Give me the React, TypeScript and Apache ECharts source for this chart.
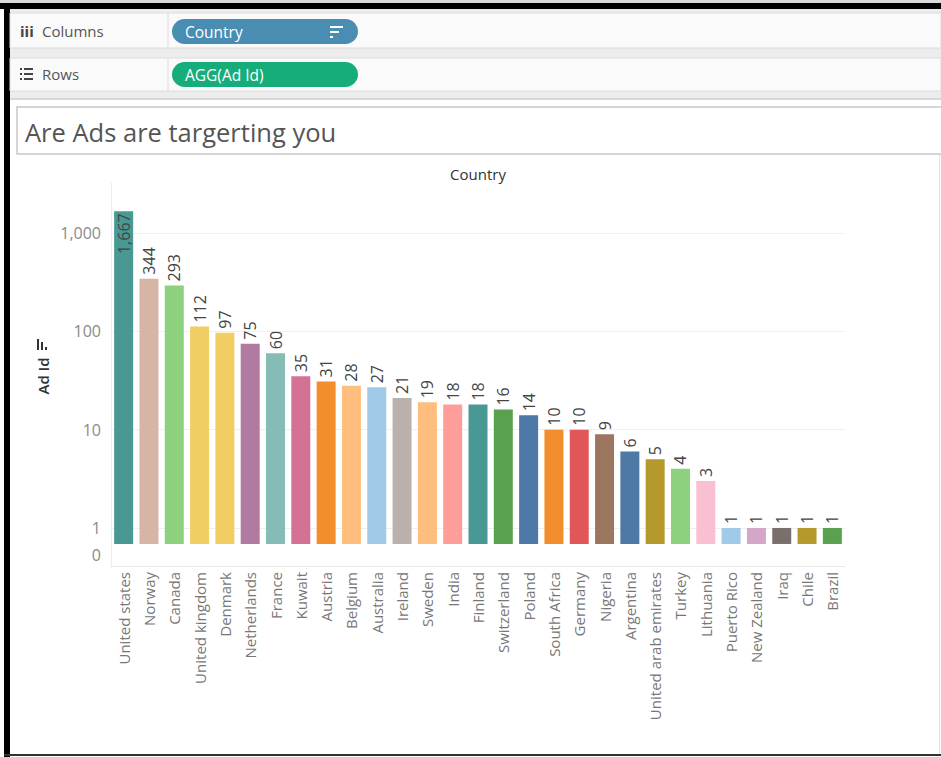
import React, { useEffect, useRef } from "react";
import * as echarts from "echarts";

const countries = [
  "United states", "Norway", "Canada", "United kingdom", "Denmark", "Netherlands",
  "France", "Kuwait", "Austria", "Belgium", "Australia", "Ireland", "Sweden", "India",
  "Finland", "Switzerland", "Poland", "South Africa", "Germany", "Nigeria", "Argentina",
  "United arab emirates", "Turkey", "Lithuania", "Puerto Rico", "New Zealand", "Iraq",
  "Chile", "Brazil",
];
const adCounts = [
  1667, 344, 293, 112, 97, 75, 60, 35, 31, 28, 27, 21, 19, 18, 18, 16, 14, 10, 10, 9, 6,
  5, 4, 3, 1, 1, 1, 1, 1,
];
const barColors = [
  "#499894", "#d7b5a6", "#8cd17d", "#f1ce63", "#f1ce63", "#b07aa1", "#86bcb6", "#d37295",
  "#f28e2b", "#ffbe7d", "#a0cbe8", "#bab0ac", "#ffbe7d", "#ff9d9a", "#499894", "#59a14f",
  "#4e79a7", "#f28e2b", "#e15759", "#9d7660", "#4e79a7", "#b6992d", "#8cd17d", "#fabfd2",
  "#a0cbe8", "#d4a6c8", "#79706e", "#b6992d", "#59a14f",
];

const FONT = "'Open Sans', 'Noto Sans', sans-serif";

function isPow10(v: number) {
  const l = Math.log10(v);
  return Math.abs(l - Math.round(l)) < 1e-6;
}

export default function App() {
  const ref = useRef<HTMLDivElement>(null);
  useEffect(() => {
    const chart = echarts.init(ref.current!, null, { renderer: "svg" });
    const graphic: any[] = [
      // frame
      { type: "rect", shape: { x: 0, y: 0, width: 941, height: 3 }, style: { fill: "#d9d9d9" } },
      { type: "rect", shape: { x: 0, y: 3, width: 941, height: 6 }, style: { fill: "#000" } },
      { type: "rect", shape: { x: 4, y: 3, width: 6, height: 754 }, style: { fill: "#000" } },
      { type: "rect", shape: { x: 4, y: 754, width: 937, height: 2 }, style: { fill: "#333" } },
      { type: "rect", shape: { x: 939, y: 9, width: 1, height: 745 }, style: { fill: "#e3e3e3" } },
      // shelves
      { type: "rect", shape: { x: 10, y: 9, width: 931, height: 98 }, style: { fill: "#ededed" } },
      { type: "rect", shape: { x: 10, y: 13, width: 931, height: 35 }, style: { fill: "#fafafa", stroke: "#dcdcdc", lineWidth: 1 } },
      { type: "rect", shape: { x: 10, y: 58, width: 931, height: 33 }, style: { fill: "#fafafa", stroke: "#dcdcdc", lineWidth: 1 } },
      { type: "rect", shape: { x: 10, y: 99, width: 931, height: 8 }, style: { fill: "#ffffff" } },
      { type: "line", shape: { x1: 10, y1: 99, x2: 941, y2: 99 }, style: { stroke: "#cfcfcf", lineWidth: 1.5 } },
      { type: "line", shape: { x1: 168, y1: 13, x2: 168, y2: 48 }, style: { stroke: "#dcdcdc", lineWidth: 1 } },
      { type: "line", shape: { x1: 168, y1: 58, x2: 168, y2: 91 }, style: { stroke: "#dcdcdc", lineWidth: 1 } },
      // columns icon
      { type: "text", x: 20, y: 31, style: { text: "iii", font: `bold 15px ${FONT}`, fill: "#444", verticalAlign: "middle" } },
      { type: "text", x: 42, y: 31, style: { text: "Columns", font: `15px ${FONT}`, fill: "#555", verticalAlign: "middle" } },
      // rows icon
      { type: "rect", shape: { x: 20, y: 68, width: 2, height: 2 }, style: { fill: "#444" } },
      { type: "rect", shape: { x: 20, y: 73, width: 2, height: 2 }, style: { fill: "#444" } },
      { type: "rect", shape: { x: 20, y: 78, width: 2, height: 2 }, style: { fill: "#444" } },
      { type: "rect", shape: { x: 24, y: 68, width: 9, height: 2 }, style: { fill: "#444" } },
      { type: "rect", shape: { x: 24, y: 73, width: 9, height: 2 }, style: { fill: "#444" } },
      { type: "rect", shape: { x: 24, y: 78, width: 9, height: 2 }, style: { fill: "#444" } },
      { type: "text", x: 42, y: 74, style: { text: "Rows", font: `15px ${FONT}`, fill: "#555", verticalAlign: "middle" } },
      // pills
      { type: "rect", shape: { x: 172, y: 19, width: 186, height: 25, r: 12.5 }, style: { fill: "#4a8db3" } },
      { type: "text", x: 185, y: 31.5, style: { text: "Country", font: `15.5px ${FONT}`, fill: "#fff", verticalAlign: "middle" } },
      { type: "rect", shape: { x: 330, y: 26, width: 13, height: 2 }, style: { fill: "#fff" } },
      { type: "rect", shape: { x: 330, y: 31, width: 9, height: 2 }, style: { fill: "#fff" } },
      { type: "rect", shape: { x: 330, y: 36, width: 3, height: 2 }, style: { fill: "#fff" } },
      { type: "rect", shape: { x: 172, y: 62, width: 186, height: 25, r: 12.5 }, style: { fill: "#16ad7b" } },
      { type: "text", x: 185, y: 74.5, style: { text: "AGG(Ad Id)", font: `15.5px ${FONT}`, fill: "#fff", verticalAlign: "middle" } },
      // title box
      { type: "rect", shape: { x: 17, y: 107, width: 930, height: 47 }, style: { fill: "#fff", stroke: "#c8c8c8", lineWidth: 1.5 } },
      { type: "text", x: 25, y: 132, style: { text: "Are Ads are targerting you", font: `25.5px ${FONT}`, fill: "#555", verticalAlign: "middle" } },
      // column header
      { type: "text", x: 478, y: 174, style: { text: "Country", font: `15px ${FONT}`, fill: "#333", align: "center", verticalAlign: "middle" } },
      // y axis title
      { type: "text", x: 43, y: 376, rotation: Math.PI / 2, style: { text: "Ad Id", font: `600 15px ${FONT}`, fill: "#333", align: "center", verticalAlign: "middle" } },
      { type: "rect", shape: { x: 37, y: 339, width: 2, height: 11 }, style: { fill: "#333" } },
      { type: "rect", shape: { x: 41, y: 342, width: 2, height: 8 }, style: { fill: "#333" } },
      { type: "rect", shape: { x: 45, y: 347, width: 2, height: 3 }, style: { fill: "#333" } },
      // zero label
      { type: "text", x: 101, y: 555, style: { text: "0", font: `16px ${FONT}`, fill: "#8a8a8a", align: "right", verticalAlign: "middle" } },
    ];

    chart.setOption({
      animation: false,
      backgroundColor: "#fff",
      textStyle: { fontFamily: FONT },
      graphic,
      grid: { left: 111, right: 96, top: 183, bottom: 191, containLabel: false },
      xAxis: {
        type: "category",
        data: countries,
        axisLine: { show: true, lineStyle: { color: "#e8e8e8", width: 1 } },
        axisTick: { show: false },
        axisLabel: { rotate: 90, color: "#777", fontSize: 15, margin: 6, interval: 0, fontFamily: FONT },
        splitLine: { show: false },
      },
      yAxis: {
        type: "log",
        logBase: 10,
        min: 0.41,
        max: 3236,
        startValue: 0.687,
        axisLine: { show: true, lineStyle: { color: "#ececec", width: 1 } },
        axisTick: { show: false },
        axisLabel: {
          color: "#8a8a8a",
          fontSize: 16,
          margin: 10,
          fontFamily: FONT,
          showMinLabel: false,
          showMaxLabel: false,
          formatter: (v: number) => (isPow10(v) ? Math.round(v).toLocaleString("en-US") : ""),
        },
        splitLine: { show: true, showMinLine: false, showMaxLine: false, lineStyle: { color: "#efefef", width: 1 } },
      },
      series: [
        {
          type: "bar",
          barWidth: 19,
          data: adCounts.map((v, i) => ({
            value: v,
            itemStyle: { color: barColors[i] },
            label: i === 0 ? { position: "insideTop", align: "right", distance: 2 } : undefined,
          })),
          label: {
            show: true,
            position: "top",
            rotate: 90,
            align: "left",
            verticalAlign: "middle",
            distance: 4,
            color: "#444",
            fontSize: 16,
            fontFamily: FONT,
            formatter: (p: any) => Number(p.value).toLocaleString("en-US"),
          },
        },
      ],
    });
    return () => chart.dispose();
  }, []);
  return (
    <div
      ref={ref}
      style={{ position: "fixed", left: 0, top: 0, width: 941, height: 757, background: "#fff" }}
    />
  );
}
